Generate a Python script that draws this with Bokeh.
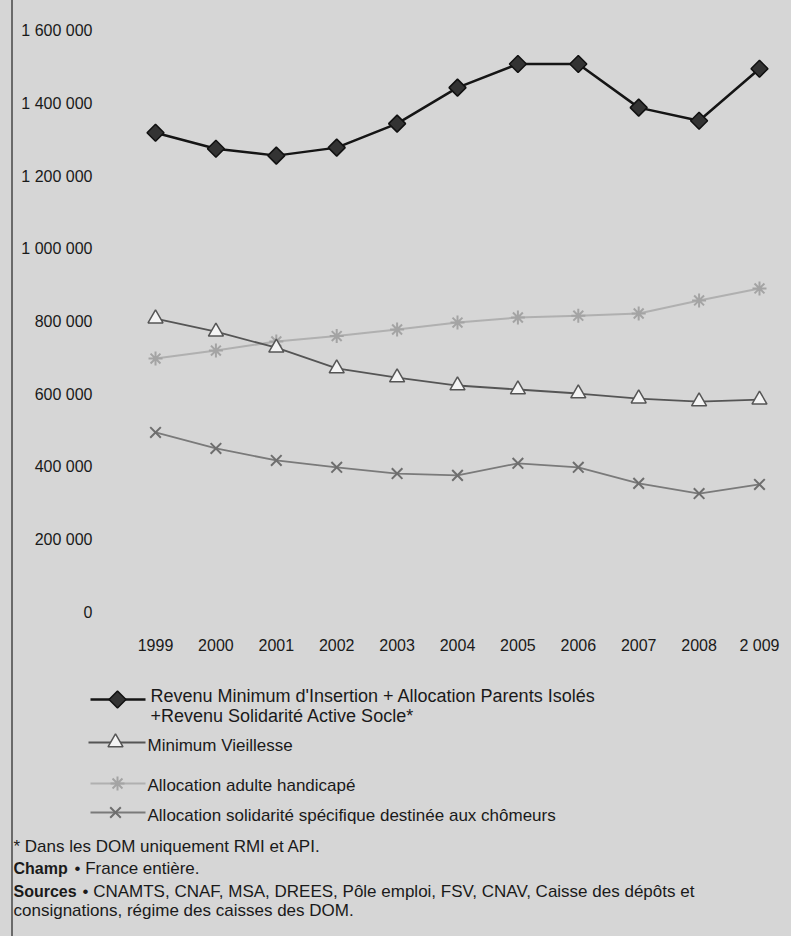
import numpy as np
from bokeh.plotting import figure
from bokeh.models import Range1d, FixedTicker
from bokeh.embed import file_html
from bokeh.resources import INLINE
from bokeh.core.properties import value

# ---- data ----
years = ["1999", "2000", "2001", "2002", "2003", "2004", "2005", "2006", "2007", "2008", "2 009"]
rmi = [1319000, 1275000, 1256000, 1278000, 1344000, 1443000, 1508000, 1508000, 1388000, 1352000, 1495000]
min_vieillesse = [808000, 772000, 728000, 671000, 646000, 624000, 613000, 602000, 588000, 580000, 585000]
aah = [698000, 720000, 745000, 760000, 778000, 797000, 811000, 816000, 822000, 858000, 891000]
ass = [495000, 451000, 418000, 399000, 382000, 377000, 410000, 399000, 355000, 327000, 352000]
y_ticks = [0, 200000, 400000, 600000, 800000, 1000000, 1200000, 1400000, 1600000]
y_tick_labels = ["0", "200 000", "400 000", "600 000", "800 000", "1 000 000",
                 "1 200 000", "1 400 000", "1 600 000"]
legend_labels = ["Revenu Minimum d'Insertion + Allocation Parents Isolés",
                 "+Revenu Solidarité Active Socle*",
                 "Minimum Vieillesse",
                 "Allocation adulte handicapé",
                 "Allocation solidarité spécifique destinée aux chômeurs"]
note_star = "* Dans les DOM uniquement RMI et API."
note_champ = ("Champ", "• France entière.")
note_sources = ("Sources", "• CNAMTS, CNAF, MSA, DREES, Pôle emploi, FSV, CNAV, Caisse des dépôts et",
                "consignations, régime des caisses des DOM.")

BG = "#d6d6d6"
FONT = "Liberation Sans"
TXT = "#1a1a1a"

x = list(range(len(years)))

# ---- main chart ----
p = figure(width=791, height=668, output_backend="svg", toolbar_location=None,
           x_range=Range1d(-0.497, 10.53), y_range=Range1d(-35740, 1641240),
           min_border_left=125, min_border_right=0, min_border_top=15, min_border_bottom=43)
p.background_fill_color = BG
p.border_fill_color = BG
p.outline_line_color = None
p.grid.grid_line_color = None

p.yaxis.ticker = FixedTicker(ticks=y_ticks)
p.yaxis.major_label_overrides = {t: l for t, l in zip(y_ticks, y_tick_labels)}
p.xaxis.ticker = FixedTicker(ticks=x)
p.xaxis.major_label_overrides = {i: y for i, y in zip(x, years)}
for ax in (p.xaxis, p.yaxis):
    ax.axis_line_color = None
    ax.major_tick_line_color = None
    ax.minor_tick_line_color = None
    ax.major_label_text_font = FONT
    ax.major_label_text_font_size = "16px"
    ax.major_label_text_color = TXT
p.yaxis.major_label_standoff = 27
p.xaxis.major_label_standoff = 5

# AAH (light gray asterisks)
p.line(x, aah, line_color="#b0b0b0", line_width=2)
p.scatter(x, aah, marker="asterisk", size=14, line_color="#a4a4a4", line_width=2)
# Minimum vieillesse
p.line(x, min_vieillesse, line_color="#555555", line_width=1.8)
p.scatter(x, min_vieillesse, marker="triangle", size=15, line_color="#555555",
          fill_color="#f4f4f4", line_width=1.5)
# ASS
p.line(x, ass, line_color="#7a7a7a", line_width=1.8)
p.scatter(x, ass, marker="x", size=15, line_color="#6e6e6e", line_width=2)
# RMI
p.line(x, rmi, line_color="#151515", line_width=2.5)
p.scatter(x, rmi, marker="square", angle=np.pi / 4, size=12, line_color="#111111",
          fill_color="#333333", line_width=1.5)

# ---- legend + notes ----
q = figure(width=791, height=268, output_backend="svg", toolbar_location=None,
           x_range=Range1d(0, 791), y_range=Range1d(936, 668),
           min_border=0, min_border_left=0, min_border_right=0,
           min_border_top=0, min_border_bottom=0)
q.axis.visible = False
q.grid.grid_line_color = None
q.background_fill_color = BG
q.border_fill_color = BG
q.outline_line_color = None

# legend samples
q.line([90, 145], [699, 699], line_color="#151515", line_width=2.5)
q.scatter([117], [699], marker="square", angle=np.pi / 4, size=12, line_color="#111111",
          fill_color="#333333", line_width=1.5)
q.line([88, 145], [742, 742], line_color="#555555", line_width=1.8)
q.scatter([115], [742], marker="triangle", size=15, line_color="#555555",
          fill_color="#f4f4f4", line_width=1.5)
q.line([90, 145], [783, 783], line_color="#b0b0b0", line_width=2)
q.scatter([117], [783], marker="asterisk", size=14, line_color="#a4a4a4", line_width=2)
q.line([90, 145], [812, 812], line_color="#7a7a7a", line_width=1.8)
q.scatter([115], [812], marker="x", size=15, line_color="#6e6e6e", line_width=2)

q.text([150, 150], [695, 715], text=legend_labels[:2], text_font=value(FONT),
       text_font_size="18px", text_color=TXT, text_baseline="middle", text_align="left")
q.text([147, 147, 147], [745, 785, 815], text=legend_labels[2:], text_font=value(FONT),
       text_font_size="17px", text_color=TXT, text_baseline="middle", text_align="left")

q.text([13], [846], text=[note_star], text_font=value(FONT), text_font_size="17px",
       text_color=TXT, text_baseline="middle", text_align="left")
q.text([13, 13], [868, 891], text=[note_champ[0], note_sources[0]], text_font=value(FONT),
       text_font_size="16px", text_font_style="bold", text_color=TXT,
       text_baseline="middle", text_align="left")
q.text([74, 82, 13], [868, 891, 910], text=[note_champ[1], note_sources[1], note_sources[2]],
       text_font=value(FONT), text_font_size="17px", text_color=TXT,
       text_baseline="middle", text_align="left")

html = file_html([p, q], INLINE)
html = html.replace("</head>",
                    "<style>html, body {background-color:%s !important;}"
                    "body::before{content:'';position:fixed;left:11px;top:0;bottom:0;"
                    "width:2px;background:#6a6a6a;z-index:10;}</style></head>" % BG, 1)
open("out.html", "w").write(html)
